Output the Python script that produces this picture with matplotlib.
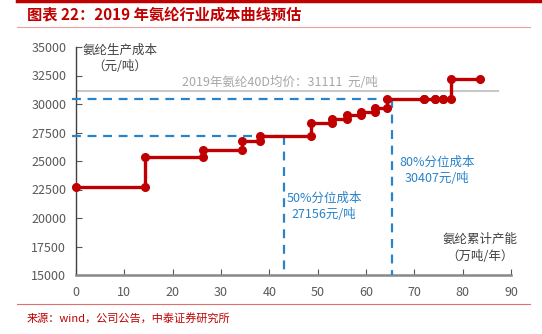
import numpy as np
import matplotlib.pyplot as plt
from matplotlib.lines import Line2D

plt.rcParams['font.family'] = ['Noto Sans CJK SC', 'DejaVu Sans']

# cumulative capacity boundaries (10k t/yr) and cost of each step (yuan/t)
capacity = [0, 14.2, 26.2, 34.3, 38.1, 48.7, 52.9, 56.0, 59.0, 61.9, 64.3, 71.9, 74.2, 76.0, 77.6, 83.5]
cost = [22700, 25350, 25950, 26750, 27156, 28300, 28660, 29000, 29270, 29680,
        30407, 30420, 30430, 30440, 32200]

avg_price = 31111
p50_x, p50_cost = 43.1, 27156
p80_x, p80_cost = 65.3, 30407

x_ticks = list(range(0, 100, 10))
y_ticks = list(range(15000, 35001, 2500))

RED = '#C00000'
BLUE = '#2A82C9'
W, H = 542, 334

fig = plt.figure(figsize=(W / 100, H / 100), dpi=100)
ax = fig.add_axes([76 / W, 1 - 275 / H, (511 - 76) / W, (275 - 47) / H])

# step curve: each producer is a horizontal run at its cost
xs, ys = [], []
for i, c in enumerate(cost):
    xs += [capacity[i], capacity[i + 1]]
    ys += [c, c]
ax.plot(xs, ys, color=RED, lw=2.4, marker='o', ms=5.5, zorder=4, clip_on=False)

# average price line
ax.plot([0, 87.4], [avg_price, avg_price], color='#C8C8C8', lw=1.5, zorder=2)

# percentile guides
for px, pc in [(p50_x, p50_cost), (p80_x, p80_cost)]:
    ax.plot([-0.8, px], [pc, pc], color=BLUE, lw=1.6, ls=(0, (4, 3)), zorder=3, clip_on=False)
    ax.plot([px, px], [pc, 15000], color=BLUE, lw=1.6, ls=(0, (4, 3)), zorder=3)

ax.set_xlim(0, 90)
ax.set_ylim(15000, 35000)
ax.set_xticks(x_ticks)
ax.set_yticks(y_ticks)
ax.tick_params(axis='both', direction='in', colors='#595959', labelsize=9, length=4)
ax.tick_params(axis='y', pad=7)
ax.tick_params(axis='x', pad=8)
for s in ['top', 'right']:
    ax.spines[s].set_visible(False)
ax.spines['left'].set_color('#404040')
ax.spines['left'].set_linewidth(1.0)
ax.spines['bottom'].set_color('#888888')
ax.spines['bottom'].set_linewidth(1.8)

def px(x, y):
    return x / W, 1 - y / H

txt = '#404040'
fig.text(*px(120, 50), '氨纶生产成本', ha='center', va='center', fontsize=9, color=txt)
fig.text(*px(120, 66), '（元/吨）', ha='center', va='center', fontsize=9, color=txt)
fig.text(*px(280, 82), '2019年氨纶40D均价：31111  元/吨', ha='center', va='center',
         fontsize=9, color='#A6A6A6')
fig.text(*px(437, 162), '80%分位成本', ha='center', va='center', fontsize=9, color=BLUE)
fig.text(*px(437, 179), '30407元/吨', ha='center', va='center', fontsize=9, color=BLUE)
fig.text(*px(324, 198), '50%分位成本', ha='center', va='center', fontsize=9, color=BLUE)
fig.text(*px(324, 214), '27156元/吨', ha='center', va='center', fontsize=9, color=BLUE)
fig.text(*px(480, 239), '氨纶累计产能', ha='center', va='center', fontsize=9, color=txt)
fig.text(*px(480, 256), '（万吨/年）', ha='center', va='center', fontsize=9, color=txt)

# header and footer
fig.add_artist(Line2D([17 / W, 1], [1 - 1 / H, 1 - 1 / H], color=RED, lw=2.5))
fig.text(*px(27, 14), '图表 22：2019 年氨纶行业成本曲线预估', ha='left', va='center',
         fontsize=11, fontweight='bold', color=RED)
fig.add_artist(Line2D([17 / W, 530 / W], [1 - 27 / H, 1 - 27 / H], color='#E8A0A0', lw=0.8))
fig.add_artist(Line2D([17 / W, 530 / W], [1 - 304 / H, 1 - 304 / H], color='#E07070', lw=0.8))
fig.text(*px(27, 318), '来源：wind，公司公告，中泰证券研究所', ha='left', va='center',
         fontsize=8, color=RED)

fig.savefig('out.png', dpi=100)
